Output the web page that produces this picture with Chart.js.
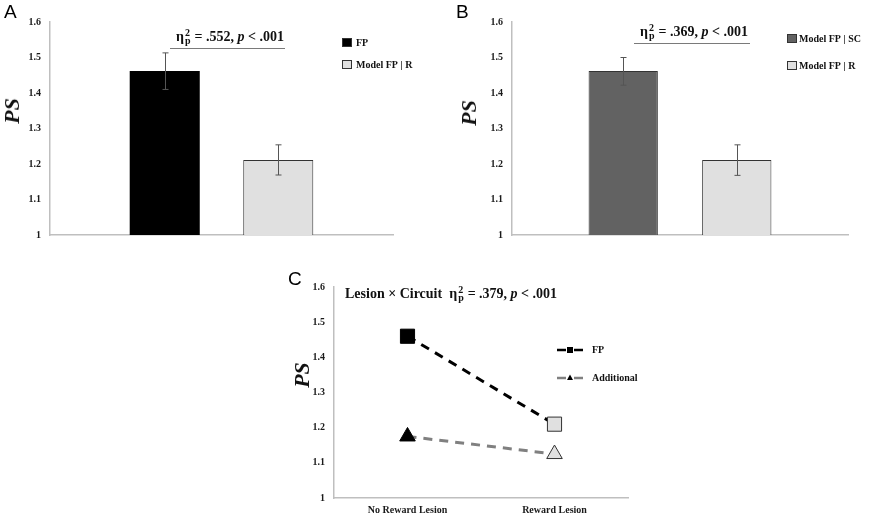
<!DOCTYPE html>
<html>
<head>
<meta charset="utf-8">
<script src="https://cdn.jsdelivr.net/npm/chart.js@4/dist/chart.umd.min.js"></script>
<style>
  html, body { margin: 0; padding: 0; background: #fff; }
  body { width: 870px; height: 518px; position: relative; overflow: hidden; }
  canvas { position: absolute; }
  .txt { position: absolute; white-space: nowrap; color: #111; }
  .letter { font-family: "Liberation Sans", Arial, sans-serif; font-size: 19px; line-height: 22px; color: #000; }
  .ann { font-family: "Liberation Serif", "Times New Roman", serif; font-weight: bold; font-size: 14px; line-height: 16px; color: #111; }
  .ps { font-family: "Liberation Serif", "Times New Roman", serif; font-weight: bold; font-style: italic; font-size: 22px; line-height: 22px; transform: translate(-50%, -50%) rotate(-90deg); color: #111; }
  .sp { display: inline-block; position: relative; width: 7px; height: 14px; vertical-align: baseline; }
  .sp .s2 { position: absolute; left: 1px; top: 1px; font-size: 10px; line-height: 10px; }
  .sp .sb { position: absolute; left: 1px; top: 8.5px; font-size: 10px; line-height: 10px; }
  .rule { position: absolute; height: 0; border-top: 1.5px solid #7a7a7a; }
</style>
</head>
<body>
<canvas id="chartA" width="435" height="250" style="left:0;top:0;"></canvas>
<canvas id="chartB" width="435" height="250" style="left:435px;top:0;"></canvas>
<canvas id="chartC" width="400" height="263" style="left:280px;top:255px;"></canvas>

<div class="txt letter" style="left:4px;top:1px;">A</div>
<div class="txt letter" style="left:456px;top:1px;">B</div>
<div class="txt letter" style="left:288px;top:268px;">C</div>

<div class="txt ps" style="left:12px;top:111px;">PS</div>
<div class="txt ps" style="left:469px;top:113px;">PS</div>
<div class="txt ps" style="left:302px;top:375px;">PS</div>

<div class="txt ann" style="left:176px;top:27px;">η<span class="sp"><span class="s2">2</span><span class="sb">p</span></span> = .552, <i>p</i> &lt; .001</div>
<div class="rule" style="left:170px;top:48px;width:115px;"></div>

<div class="txt ann" style="left:640px;top:22px;">η<span class="sp"><span class="s2">2</span><span class="sb">p</span></span> = .369, <i>p</i> &lt; .001</div>
<div class="rule" style="left:634px;top:43px;width:116px;"></div>

<div class="txt ann" style="left:345px;top:284px;">Lesion × Circuit&nbsp; η<span class="sp"><span class="s2">2</span><span class="sb">p</span></span> = .379, <i>p</i> &lt; .001</div>

<script>
// ---------- DATA ----------
const yTickLabels = ['1', '1.1', '1.2', '1.3', '1.4', '1.5', '1.6'];

// Panel A
const panelACategories = [''];
const panelASeries = ['FP', 'Model FP | R'];
const panelAValues = [1.462, 1.211];
const panelAErrLow = [1.410, 1.169];
const panelAErrHigh = [1.513, 1.254];

// Panel B
const panelBCategories = [''];
const panelBSeries = ['Model FP | SC', 'Model FP | R'];
const panelBValues = [1.462, 1.211];
const panelBErrLow = [1.422, 1.168];
const panelBErrHigh = [1.500, 1.254];

// Panel C
const panelCCategories = ['No Reward Lesion', 'Reward Lesion'];
const panelCSeries = ['FP', 'Additional'];
const panelCFP = [1.460, 1.210];
const panelCAdditional = [1.175, 1.125];

// ---------- STYLE ----------
Chart.defaults.font.family = '"Liberation Serif", "Times New Roman", serif';
Chart.defaults.color = '#1a1a1a';
Chart.defaults.animation = false;

const SERIF = '"Liberation Serif", "Times New Roman", serif';
const AXIS = '#bfbfbf';

const errorBarPlugin = {
  id: 'errorBars',
  afterDatasetsDraw(chart, args, opts) {
    if (!opts || !opts.low) return;
    const ctx = chart.ctx;
    const y = chart.scales.y;
    ctx.save();
    ctx.strokeStyle = opts.color || '#555';
    ctx.lineWidth = 1;
    chart.data.datasets.forEach((ds, di) => {
      const meta = chart.getDatasetMeta(di);
      meta.data.forEach((el) => {
        const x = Math.round(el.x) + 0.5;
        const yHi = y.getPixelForValue(opts.high[di]);
        const yLo = y.getPixelForValue(opts.low[di]);
        ctx.beginPath();
        ctx.moveTo(x, yHi); ctx.lineTo(x, yLo);
        ctx.moveTo(x - 3, yHi); ctx.lineTo(x + 3, yHi);
        ctx.moveTo(x - 3, yLo); ctx.lineTo(x + 3, yLo);
        ctx.stroke();
      });
    });
    ctx.restore();
  }
};

const boxLegendPlugin = {
  id: 'boxLegend',
  afterDraw(chart, args, opts) {
    if (!opts || !opts.x) return;
    const ctx = chart.ctx;
    ctx.save();
    chart.data.datasets.forEach((ds, i) => {
      const bx = opts.x, by = opts.y[i];
      ctx.fillStyle = ds.backgroundColor;
      ctx.fillRect(bx, by, 10, 9);
      ctx.strokeStyle = '#333';
      ctx.lineWidth = 1;
      ctx.strokeRect(bx + 0.5, by + 0.5, 9, 8);
      ctx.fillStyle = '#111';
      ctx.font = 'bold 10px ' + SERIF;
      ctx.textBaseline = 'middle';
      ctx.fillText(ds.label, opts.textX, by + 5);
    });
    ctx.restore();
  }
};

const lineLegendPlugin = {
  id: 'lineLegend',
  afterDraw(chart, args, opts) {
    if (!opts || !opts.x) return;
    const ctx = chart.ctx;
    ctx.save();
    chart.data.datasets.forEach((ds, i) => {
      const y = opts.y[i];
      const x0 = opts.x, x1 = opts.x + 26, xm = opts.x + 13;
      ctx.strokeStyle = ds.borderColor;
      ctx.lineWidth = 2.5;
      ctx.beginPath();
      ctx.moveTo(x0, y); ctx.lineTo(x0 + 9, y);
      ctx.moveTo(x1 - 9, y); ctx.lineTo(x1, y);
      ctx.stroke();
      ctx.fillStyle = '#000';
      if (ds.pointStyle === 'rect') {
        ctx.fillRect(xm - 3, y - 3, 6, 6);
      } else {
        ctx.beginPath();
        ctx.moveTo(xm, y - 3.5); ctx.lineTo(xm + 3, y + 2); ctx.lineTo(xm - 3, y + 2);
        ctx.closePath(); ctx.fill();
      }
      ctx.fillStyle = '#111';
      ctx.font = 'bold 10px ' + SERIF;
      ctx.textBaseline = 'middle';
      ctx.fillText(ds.label, opts.textX, y);
    });
    ctx.restore();
  }
};

function yAxis(width) {
  return {
    min: 1, max: 1.6,
    ticks: {
      stepSize: 0.1,
      padding: 9,
      font: { size: 10, weight: 'bold', family: SERIF },
      color: '#1a1a1a',
      callback: (v, i) => yTickLabels[i]
    },
    grid: { display: false, drawTicks: false },
    border: { color: AXIS, width: 1.5 },
    afterFit: (s) => { s.width = width; }
  };
}

function barChart(id, cats, series, values, colors, borders, low, high, pad, yW, cp, bp, legend) {
  return new Chart(document.getElementById(id), {
    type: 'bar',
    data: {
      labels: cats,
      datasets: series.map((name, i) => ({
        label: name,
        data: [values[i]],
        backgroundColor: colors[i],
        borderColor: '#333',
        borderWidth: borders[i],
        borderSkipped: false,
        categoryPercentage: cp,
        barPercentage: bp
      }))
    },
    options: {
      responsive: false,
      devicePixelRatio: 1,
      layout: { padding: pad },
      plugins: {
        legend: { display: false },
        tooltip: { enabled: false },
        errorBars: { low: low, high: high, color: '#555' },
        boxLegend: legend
      },
      scales: {
        x: {
          ticks: { display: false },
          grid: { display: false, drawTicks: false },
          border: { color: AXIS, width: 1.5 },
          afterFit: (s) => { s.height = 15; }
        },
        y: yAxis(yW)
      }
    },
    plugins: [errorBarPlugin, boxLegendPlugin]
  });
}

barChart('chartA', panelACategories, panelASeries, panelAValues,
  ['#000000', '#e0e0e0'], [0, 1], panelAErrLow, panelAErrHigh,
  { left: 0, right: 42, top: 22, bottom: 0 }, 50, 0.662, 0.617,
  { x: 342, y: [38, 60], textX: 356 });

barChart('chartB', panelBCategories, panelBSeries, panelBValues,
  ['#626262', '#e0e0e0'], [1, 1], panelBErrLow, panelBErrHigh,
  { left: 20, right: 22, top: 22, bottom: 0 }, 57, 0.676, 0.61,
  { x: 352, y: [34, 61], textX: 364 });

new Chart(document.getElementById('chartC'), {
  type: 'line',
  data: {
    labels: panelCCategories,
    datasets: [
      {
        label: panelCSeries[0],
        data: panelCFP,
        borderColor: '#000',
        borderWidth: 3,
        borderDash: [9, 7],
        pointStyle: 'rect',
        pointRadius: 10,
        pointBackgroundColor: ['#000000', '#e0e0e0'],
        pointBorderColor: ['#000000', '#333333'],
        pointBorderWidth: 1
      },
      {
        label: panelCSeries[1],
        data: panelCAdditional,
        borderColor: '#808080',
        borderWidth: 3,
        borderDash: [9, 7],
        pointStyle: 'triangle',
        pointRadius: 9,
        pointBackgroundColor: ['#000000', '#e0e0e0'],
        pointBorderColor: ['#000000', '#333333'],
        pointBorderWidth: 1
      }
    ]
  },
  options: {
    responsive: false,
    devicePixelRatio: 1,
    layout: { padding: { left: 0, right: 52, top: 32, bottom: 0 } },
    plugins: {
      legend: { display: false },
      tooltip: { enabled: false },
      lineLegend: { x: 277, y: [95, 123], textX: 312 }
    },
    scales: {
      x: {
        offset: true,
        ticks: { font: { size: 10, weight: 'bold', family: SERIF }, color: '#1a1a1a', padding: 6, maxRotation: 0 },
        grid: { display: false, drawTicks: false },
        border: { color: AXIS, width: 1.5 },
        afterFit: (s) => { s.height = 20; }
      },
      y: yAxis(54)
    }
  },
  plugins: [lineLegendPlugin]
});
</script>
</body>
</html>
